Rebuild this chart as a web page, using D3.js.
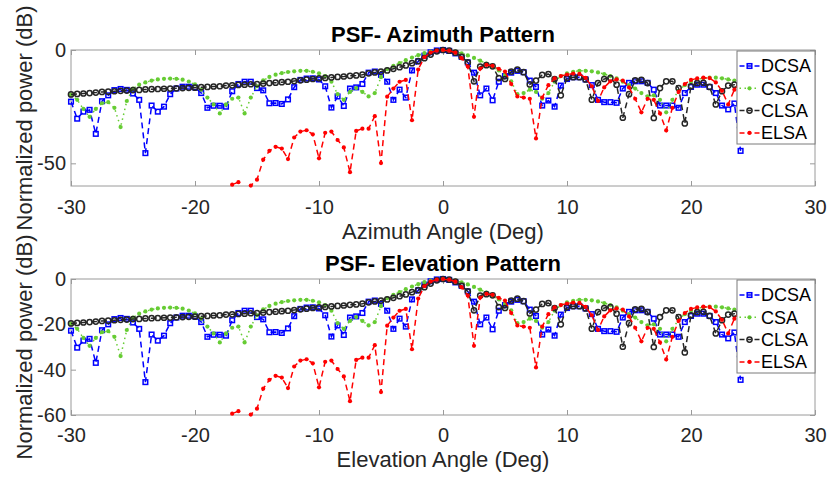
<!DOCTYPE html>
<html>
<head>
<meta charset="utf-8">
<style>
  body { margin: 0; background: #fff; }
  svg { font-family: "Liberation Sans", Arial, sans-serif; }
  .tick text { fill: #262626; }
</style>
</head>
<body>
<svg id="chart" width="829" height="479"></svg>
<script src="https://cdn.jsdelivr.net/npm/d3@7"></script>
<script>
// sampling grid of the patterns (deg)
var angles = d3.range(-30, 24.25, 0.5);

// normalized power (dB), one value per 0.5 deg
var dcsa = [
  -22.8, -30.3, -27.2, -26.4, -37, -22.6, -20, -17.7, -17.2, -17.6,
  -19.2, -22, -45.5, -24.5, -27.2, -25, -19.5, -17, -16.2, -16.2,
  -16.5, -19, -25.5, -24.6, -24.6, -25, -18.2, -15, -14, -14,
  -16.8, -17.8, -23.5, -23.4, -23.8, -21.8, -16.4, -13.2, -12.6, -12.5,
  -13, -16, -25.4, -20.5, -24.7, -17, -16.5, -15, -10, -9.5,
  -11, -14, -22, -17.5, -21, -9, -5, -2.5, -1, -0.2,
  0, -0.4, -1.5, -3, -5.5, -10, -20, -17, -22.2, -14,
  -11.5, -10, -9.2, -9.8, -13.5, -16.3, -24.5, -22.3, -25, -15.7,
  -12.8, -12, -12, -13, -15.5, -22, -23, -23, -23.3, -17,
  -14.5, -13.8, -13.8, -14.5, -17.5, -24.5, -24.5, -24.5, -25.5, -19,
  -16.3, -15.3, -15.3, -16.3, -19, -24.5, -26.2, -23.6, -44.5
];
var csa = [
  -19.7, -22, -26, -29.5, -26, -23.5, -23, -25.5, -34, -22.5,
  -17, -15.3, -14.3, -13.5, -13, -12.7, -12.6, -12.7, -13.1, -13.9,
  -15.2, -17.5, -21, -24, -28, -24, -21.5, -21, -28, -21,
  -16, -13.4, -11.9, -10.9, -10.2, -9.7, -9.4, -9.2, -9.2, -9.6,
  -10.3, -11.5, -14, -19.5, -22, -18.5, -16.8, -18.5, -20.5, -19,
  -12, -8.5, -7, -5.8, -4.5, -3.3, -2.3, -1.4, -0.7, -0.2,
  0, -0.2, -0.7, -1.5, -2.4, -3.5, -4.7, -6, -7.4, -9,
  -11, -13.8, -19.5, -19, -17.5, -18.5, -21.5, -19, -14, -11.5,
  -10.3, -9.6, -9.2, -9.2, -9.4, -9.9, -10.6, -11.5, -12.5, -14,
  -15.5, -17, -19, -20.5, -20, -22, -27.5, -22, -18, -15.5,
  -14, -13, -12.4, -12.2, -12.2, -12.5, -13, -13.5, -14
];
var clsa = [
  -19.6, -19.4, -19.2, -19, -18.8, -18.5, -18.4, -18.2, -18, -17.9,
  -17.7, -17.6, -17.4, -17.3, -17.2, -17.1, -17, -16.9, -16.8, -16.7,
  -16.6, -16.4, -16.3, -16.1, -16, -15.7, -15.6, -15.4, -15.3, -15.1,
  -15, -14.8, -14.6, -14.4, -14.2, -14, -13.7, -13.4, -13.1, -12.8,
  -12.5, -12.3, -12.1, -11.9, -11.7, -11.4, -11.2, -10.9, -10.3, -9.9,
  -9.5, -9, -8.3, -7.6, -6.8, -5.8, -4.9, -3.6, -2, -0.6,
  0, -0.3, -1.2, -3, -5.5, -13.8, -7.3, -6.7, -7.2, -12.4,
  -12.8, -9.5, -8.7, -9.8, -15.2, -13.5, -11, -10.6, -12.8, -20,
  -12.4, -12, -12, -13, -21.9, -14.6, -12.8, -12.4, -15.3, -29.9,
  -19.5, -13.4, -13.2, -14.6, -30, -16.8, -13.8, -13.8, -16.8, -32.4,
  -16, -14.6, -14.5, -16.3, -24, -18.2, -15.7, -15.3, -17
];
var elsa = [
  -75, -78, -72, -80, -74, -77, -71, -79, -73, -76,
  -74, -70, -76, -72, -69, -75, -71, -68, -73, -70,
  -67, -71, -66, -69, -65, -63, -59.4, -58.3, -62, -59.8,
  -57.2, -48.4, -44.5, -42.7, -43.5, -48.1, -38.6, -36, -35.4, -37.2,
  -47.8, -36.5, -36, -39.7, -43, -53.9, -35.7, -34.7, -34.7, -29.2,
  -49.9, -20.6, -17, -14, -13.2, -31, -8.6, -3.2, -1.1, -0.3,
  0, -0.3, -1.2, -3.6, -7.3, -29.5, -8.2, -6.6, -7, -8.3,
  -9.5, -15, -20.5, -21, -21.5, -39, -21, -15.5, -12.5, -11.5,
  -10.8, -10.4, -10.5, -12.3, -16, -22.5, -16.5, -13.8, -13, -13.5,
  -16.5, -21.5, -27.5, -21.5, -22, -28, -35.5, -25.5, -18.5, -15,
  -13.2, -12.5, -12.2, -12.4, -14.3, -18, -24, -17.5, -14
];

var seriesNames = ["DCSA", "CSA", "CLSA", "ELSA"];
var xTicks = [-30, -20, -10, 0, 10, 20, 30];

var series = [
  {name: "DCSA", values: dcsa, color: "#0000ff", dash: "6,4", marker: "square"},
  {name: "CSA",  values: csa,  color: "#66cc33", dash: "1.5,3.5", marker: "dot"},
  {name: "CLSA", values: clsa, color: "#262626", dash: "6,4", marker: "circle"},
  {name: "ELSA", values: elsa, color: "#ff0000", dash: "6,4", marker: "dot"}
];

var panels = [
  {title: "PSF- Azimuth Pattern", xlabel: "Azimuth Angle (Deg)", top: 50, yTicks: [-50, 0], tickPad: 14, titleY: 41.5, xlabelY: 239},
  {title: "PSF- Elevation Pattern", xlabel: "Elevation Angle (Deg)", top: 279, yTicks: [-60, -40, -20, 0], tickPad: 13, titleY: 271, xlabelY: 467}
];

var svg = d3.select("#chart");
var left = 71, right = 815, h = 136;
var fmt = function(d) { return String(d); }; // plain hyphen like the original

var x = d3.scaleLinear().domain([-30, 30]).range([left, right]);

panels.forEach(function(p, pi) {
  var y = d3.scaleLinear().domain([-60, 0]).range([p.top + h, p.top]);
  var g = svg.append("g");

  g.append("clipPath").attr("id", "clip" + pi)
    .append("rect").attr("x", left).attr("y", p.top).attr("width", right - left).attr("height", h);

  // axes
  var xb = g.append("g").attr("transform", "translate(0," + (p.top + h) + ")")
    .call(d3.axisBottom(x).tickValues(xTicks).tickFormat(fmt).tickSizeInner(-5).tickSizeOuter(0).tickPadding(p.tickPad));
  var xt = g.append("g").attr("transform", "translate(0," + p.top + ")")
    .call(d3.axisTop(x).tickValues(xTicks).tickSizeInner(-5).tickSizeOuter(0).tickFormat(""));
  var yl = g.append("g").attr("transform", "translate(" + left + ",0)")
    .call(d3.axisLeft(y).tickValues(p.yTicks).tickFormat(fmt).tickSizeInner(-5).tickSizeOuter(0).tickPadding(5));
  var yr = g.append("g").attr("transform", "translate(" + right + ",0)")
    .call(d3.axisRight(y).tickValues(p.yTicks).tickSizeInner(-5).tickSizeOuter(0).tickFormat(""));
  [xb, xt, yl, yr].forEach(function(a) {
    a.select(".domain").remove();
    a.selectAll(".tick line").attr("stroke", "#9a9a9a");
    a.selectAll("text").attr("font-size", 20).attr("font-family", "Liberation Sans, Arial, sans-serif");
  });

  g.append("rect").attr("x", left).attr("y", p.top).attr("width", right - left).attr("height", h)
    .attr("fill", "none").attr("stroke", "#9a9a9a").attr("stroke-width", 1);

  // data
  var plot = g.append("g");
  series.forEach(function(s) {
    var pts = angles.map(function(a, i) { return [a, s.values[i]]; });
    var line = d3.line().x(function(d) { return x(d[0]); }).y(function(d) { return y(d[1]); });
    plot.append("path").datum(pts)
      .attr("clip-path", "url(#clip" + pi + ")")
      .attr("d", line)
      .attr("fill", "none").attr("stroke", s.color).attr("stroke-width", 1.5)
      .attr("stroke-dasharray", s.dash);
    var vis = pts.filter(function(d) { return d[1] >= -60; });
    drawMarkers(plot, vis, s, function(d) { return x(d[0]); }, function(d) { return y(d[1]); });
  });

  // title and labels
  g.append("text").attr("x", x(0)).attr("y", p.titleY).attr("text-anchor", "middle")
    .attr("font-size", 22).attr("font-weight", "bold").attr("fill", "#000").text(p.title);
  g.append("text").attr("x", x(0)).attr("y", p.xlabelY).attr("text-anchor", "middle")
    .attr("font-size", 22).attr("fill", "#262626").text(p.xlabel);
  g.append("text").attr("transform", "translate(32," + (p.top + h / 2) + ") rotate(-90)")
    .attr("text-anchor", "middle").attr("font-size", 22).attr("fill", "#262626")
    .text("Normalized power (dB)");

  // legend
  var lg = g.append("g").attr("transform", "translate(737," + (p.top + 1) + ")");
  lg.append("rect").attr("width", right - 737).attr("height", 93)
    .attr("fill", "#fff").attr("stroke", "#7a7a7a").attr("stroke-width", 1);
  series.forEach(function(s, i) {
    var yy = 15 + 22.3 * i;
    lg.append("line").attr("x1", 2.5).attr("x2", 22.5).attr("y1", yy).attr("y2", yy)
      .attr("stroke", s.color).attr("stroke-width", 1.5).attr("stroke-dasharray", s.dash === "6,4" ? "5,3,4,3,5" : s.dash);
    drawMarkers(lg, [[12.5, yy]], s, function(d) { return d[0]; }, function(d) { return d[1]; });
    lg.append("text").attr("x", 24).attr("y", yy).attr("dy", "0.35em")
      .attr("font-size", 18).attr("fill", "#000").text(seriesNames[i]);
  });
});

function drawMarkers(sel, pts, s, fx, fy) {
  if (s.marker === "square") {
    sel.selectAll(null).data(pts).enter().append("rect")
      .attr("x", function(d) { return fx(d) - 2.3; }).attr("y", function(d) { return fy(d) - 2.3; })
      .attr("width", 4.6).attr("height", 4.6)
      .attr("fill", "none").attr("stroke", s.color).attr("stroke-width", 1.5);
  } else if (s.marker === "circle") {
    sel.selectAll(null).data(pts).enter().append("circle")
      .attr("cx", fx).attr("cy", fy).attr("r", 2.6)
      .attr("fill", "none").attr("stroke", s.color).attr("stroke-width", 1.5);
  } else {
    sel.selectAll(null).data(pts).enter().append("circle")
      .attr("cx", fx).attr("cy", fy).attr("r", 2.1)
      .attr("fill", s.color);
  }
}
</script>
</body>
</html>
